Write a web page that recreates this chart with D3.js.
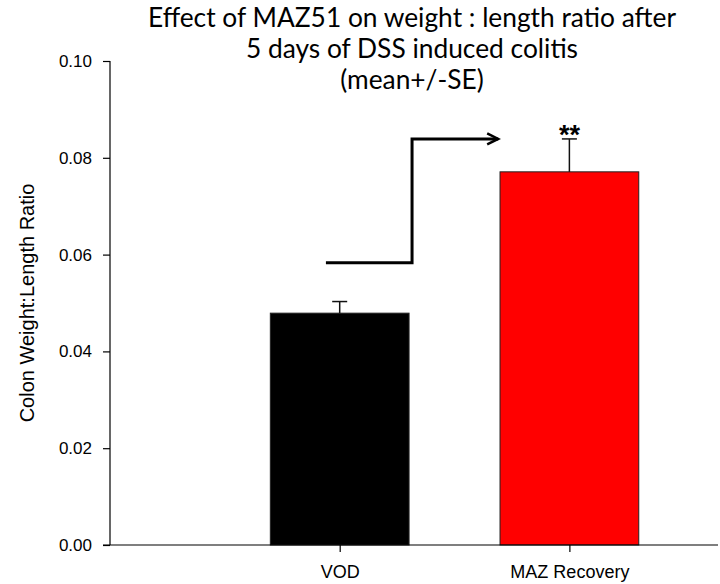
<!DOCTYPE html>
<html>
<head>
<meta charset="utf-8">
<script src="https://cdn.jsdelivr.net/npm/d3@7"></script>
<style>
  body { margin: 0; background: #fff; }
  svg { display: block; }
</style>
</head>
<body>
<script>
'use strict';

// data
const groups = ['VOD', 'MAZ Recovery'];
const means = [0.0479, 0.0771];
const errors = [0.0024, 0.0068];
const barColors = ['#000000', '#ff0000'];
const yTicks = [0, 0.02, 0.04, 0.06, 0.08, 0.10];
const titleLines = ['Effect of MAZ51 on weight : length ratio after', '5 days of DSS induced colitis', '(mean+/-SE)'];
const yTitle = 'Colon Weight:Length Ratio';
const significance = '**';
// bracket arrow (x in group positions, y in data units)
const arrowX = [0.94, 1.315, 1.315, 1.69];
const arrowY = [0.0583, 0.0583, 0.0839, 0.0839];

const width = 720, height = 584;
const margin = { top: 61, left: 110, bottom: 39, right: 2 };

const svg = d3.select('body').append('svg')
  .attr('width', width)
  .attr('height', height);

const xScale = d3.scaleLinear()
  .domain([0, 2.647])
  .range([margin.left, width - margin.right]);

const yScale = d3.scaleLinear()
  .domain([0, 0.10])
  .range([height - margin.bottom, margin.top]);

const barHalf = 0.302;

// bars
svg.selectAll('.bar')
  .data(groups)
  .enter().append('rect')
    .attr('class', 'bar')
    .attr('x', function (d, i) { return xScale(i + 1 - barHalf); })
    .attr('width', xScale(1 + barHalf) - xScale(1 - barHalf))
    .attr('y', function (d, i) { return yScale(means[i]); })
    .attr('height', function (d, i) { return yScale(0) - yScale(means[i]); })
    .attr('fill', function (d, i) { return barColors[i]; })
    .attr('stroke', '#222')
    .attr('stroke-width', 1);

// error bars, upper side only
const err = svg.selectAll('.err')
  .data(groups)
  .enter().append('g')
    .attr('class', 'err')
    .attr('stroke', '#111')
    .attr('stroke-width', 1.5);

err.append('line')
  .attr('x1', function (d, i) { return xScale(i + 1); })
  .attr('x2', function (d, i) { return xScale(i + 1); })
  .attr('y1', function (d, i) { return yScale(means[i]); })
  .attr('y2', function (d, i) { return yScale(means[i] + errors[i]); });

err.append('line')
  .attr('x1', function (d, i) { return xScale(i + 1) - 7.5; })
  .attr('x2', function (d, i) { return xScale(i + 1) + 7.5; })
  .attr('y1', function (d, i) { return yScale(means[i] + errors[i]); })
  .attr('y2', function (d, i) { return yScale(means[i] + errors[i]); });

// axes
const yAxis = d3.axisLeft(yScale)
  .tickValues(yTicks)
  .tickSize(7)
  .tickPadding(11)
  .tickFormat(d3.format('.2f'));

const xAxis = d3.axisBottom(xScale)
  .tickValues([1, 2])
  .tickSize(7)
  .tickPadding(13)
  .tickFormat(function (d) { return groups[d - 1]; });

const gy = svg.append('g')
  .attr('transform', `translate(${margin.left}, 0)`)
  .call(yAxis);

const gx = svg.append('g')
  .attr('transform', `translate(0, ${height - margin.bottom})`)
  .call(xAxis);

[gx, gy].forEach(function (g) {
  g.select('.domain').attr('stroke', '#000').attr('stroke-width', 1.2);
  g.selectAll('.tick line').attr('stroke', '#000').attr('stroke-width', 1.2);
  g.selectAll('.tick text')
    .attr('fill', '#000')
    .style('font-family', 'Liberation Sans, Arial, sans-serif');
});
gy.select('.domain').attr('d', `M0,${yScale(0.10)}V${yScale(0)}`);
gx.select('.domain').attr('d', `M${margin.left - 7},0H${width - margin.right}`);
gy.selectAll('.tick text').style('font-size', '17px');
gx.selectAll('.tick text').style('font-size', '18px');

// y axis title
svg.append('text')
  .attr('transform', `translate(34, ${(yScale(0) + yScale(0.10)) / 2}) rotate(-90)`)
  .attr('text-anchor', 'middle')
  .style('font-family', 'Liberation Sans, Arial, sans-serif')
  .style('font-size', '20px')
  .text(yTitle);

// title, fitted to the width of the second line
const title = svg.append('g')
  .style('font-family', 'Lato, Open Sans, sans-serif')
  .attr('text-anchor', 'middle');

const titleText = title.selectAll('text')
  .data(titleLines)
  .enter().append('text')
    .attr('x', 412)
    .attr('y', function (d, i) { return 27 + i * 31; })
    .style('font-size', '22px')
    .text(function (d) { return d; });

const measured = titleText.nodes()[1].getComputedTextLength();
titleText.style('font-size', (22 * 332 / measured).toFixed(2) + 'px');

// bracket with open arrow head
const bracket = d3.line()
  .x(function (d) { return xScale(d[0]); })
  .y(function (d) { return yScale(d[1]); });

const pts = d3.zip(arrowX, arrowY);
svg.append('path')
  .attr('d', bracket(pts))
  .attr('fill', 'none')
  .attr('stroke', '#000')
  .attr('stroke-width', 3);

const tip = pts[pts.length - 1];
const tx = xScale(tip[0]), ty = yScale(tip[1]);
svg.append('path')
  .attr('d', `M${tx - 11},${ty - 5.5}L${tx},${ty}L${tx - 11},${ty + 5.5}`)
  .attr('fill', 'none')
  .attr('stroke', '#000')
  .attr('stroke-width', 2.5);

// significance mark
svg.append('text')
  .attr('x', xScale(2))
  .attr('y', yScale(means[1] + errors[1]) + 5)
  .attr('text-anchor', 'middle')
  .style('font-family', 'Liberation Sans, Arial, sans-serif')
  .style('font-weight', 'bold')
  .style('font-size', '27px')
  .text(significance);
</script>
</body>
</html>
